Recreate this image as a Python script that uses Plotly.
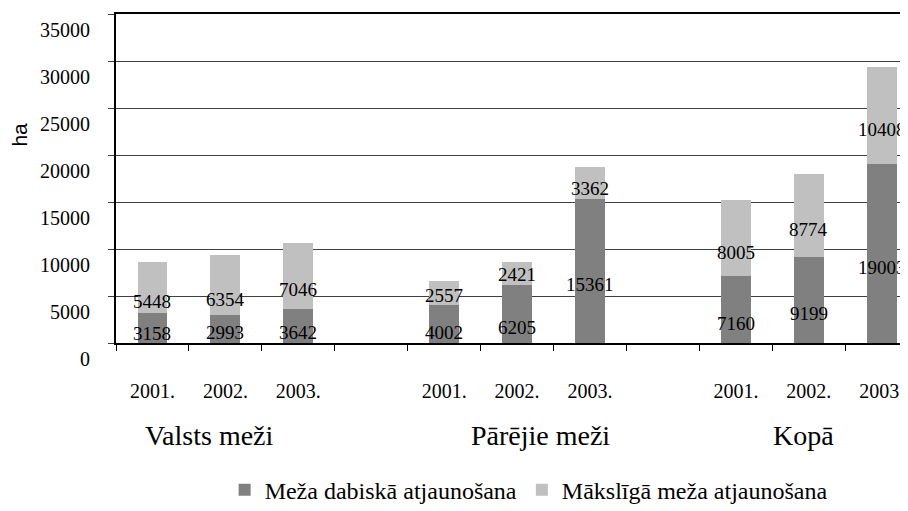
import plotly.graph_objects as go

# data
groups = ["Valsts meži", "Pārējie meži", "Kopā"]
years = ["2001.", "2002.", "2003."]
dabiska = [3158, 2993, 3642, 4002, 6205, 15361, 7160, 9199, 19003]
makslīga = [5448, 6354, 7046, 2557, 2421, 3362, 8005, 8774, 10408]
y_ticks = [0, 5000, 10000, 15000, 20000, 25000, 30000, 35000]

DARK = "#808080"
LIGHT = "#c0c0c0"
SERIF = "Times New Roman, Liberation Serif, serif"

# bars of each group sit on slots 0-2, 4-6, 8-10 (one empty slot between groups)
xpos = [g * 4 + i for g in range(len(groups)) for i in range(len(years))]
xlabels = [y for _ in groups for y in years]

plot_h = 329
ppu = plot_h / 35000.0

fig = go.Figure()
fig.add_trace(go.Bar(x=xpos, y=dabiska, name="Meža dabiskā atjaunošana",
                     marker=dict(color=DARK, line=dict(width=0))))
fig.add_trace(go.Bar(x=xpos, y=makslīga, name="Mākslīgā meža atjaunošana",
                     marker=dict(color=LIGHT, line=dict(width=0))))

# value labels: centred in the segment, pushed down a bit but kept inside
for x, d, m in zip(xpos, dabiska, makslīga):
    for base, v in ((0, d), (d, m)):
        shift = max(-14, 10 - v / 2 * ppu)
        fig.add_annotation(x=x, y=base + v / 2, text=str(v), showarrow=False,
                           yshift=shift, font=dict(family=SERIF, size=19, color="black"))

# group names under the year labels
for g, name, dx in zip(range(len(groups)), groups, [-16, 23, -5]):
    fig.add_annotation(x=g * 4 + 1, y=-0.28, xref="x", yref="paper", text=name,
                       showarrow=False, xshift=dx, yanchor="middle",
                       font=dict(family=SERIF, size=28, color="black"))

fig.add_annotation(x=0, y=0.632, xref="paper", yref="paper", text="ha",
                   textangle=-90, showarrow=False, xshift=-110,
                   font=dict(family="Arial, Liberation Sans, sans-serif", size=21, color="black"))

# page body has an 8px margin, so the figure is 8px smaller than the window
fig.update_layout(
    width=900, height=503,
    margin=dict(l=108, r=0, t=6, b=168, autoexpand=False),
    paper_bgcolor="white", plot_bgcolor="white",
    barmode="stack", bargap=0.59,
    font=dict(family=SERIF, size=20, color="black"),
    showlegend=True,
    legend=dict(orientation="h", x=0.521, xanchor="center", y=-0.447, yanchor="middle",
                traceorder="normal",
                font=dict(family=SERIF, size=24, color="black"),
                bgcolor="rgba(0,0,0,0)", itemsizing="constant"),
    xaxis=dict(range=[-0.5, 10.36], tickvals=xpos, ticktext=xlabels,
               showgrid=False, zeroline=False, ticks="",
               showline=True, linecolor="black", linewidth=2, mirror=True,
               ticklabelstandoff=29,
               minor=dict(tick0=0.5, dtick=1, ticks="outside", ticklen=6,
                          tickcolor="black", showgrid=False),
               tickfont=dict(family=SERIF, size=20, color="black")),
    yaxis=dict(range=[0, 35000], tickvals=y_ticks, tickformat="d",
               showgrid=True, gridcolor="#404040", gridwidth=1, zeroline=False,
               showline=True, linecolor="black", linewidth=2,
               ticks="outside", ticklen=6, tickcolor="#404040",
               ticklabelshift=16, ticklabelstandoff=14,
               tickfont=dict(family=SERIF, size=20, color="black")),
)

fig.write_html("out.html")
